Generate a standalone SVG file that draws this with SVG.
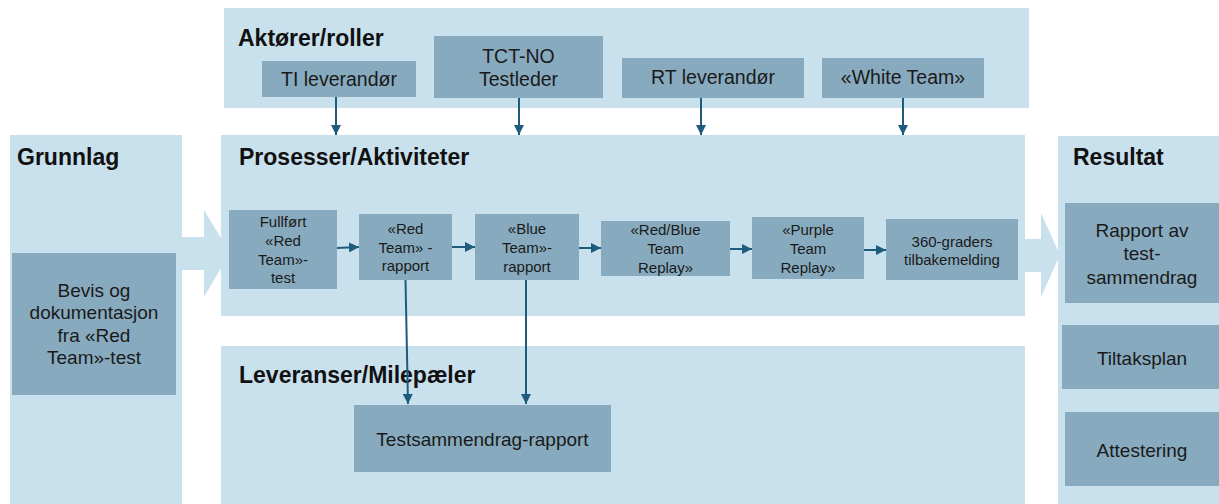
<svg xmlns="http://www.w3.org/2000/svg" width="1219" height="504" viewBox="0 0 1219 504">
<style>
.panel{fill:#c9e0ed}
.box{fill:#87aabe}
.h{font-family:"Liberation Sans",Arial,sans-serif;font-weight:bold;font-size:23px;fill:#111}
.t{font-family:"Liberation Sans",Arial,sans-serif;font-size:19.5px;fill:#1a1a1a;text-anchor:middle}
.s{font-family:"Liberation Sans",Arial,sans-serif;font-size:15px;fill:#1a1a1a;text-anchor:middle}
.c{stroke:#1f5b7c;stroke-width:2;fill:none;marker-end:url(#ah)}
</style>
<defs>
<marker id="ah" viewBox="0 0 10 10" refX="10" refY="5" markerWidth="5" markerHeight="5" orient="auto" markerUnits="strokeWidth">
<path d="M0,0 L10,5 L0,10 Z" fill="#1f5b7c"/>
</marker>
</defs>
<rect width="1219" height="504" fill="#ffffff"/>

<g id="flow-arrows">
<polygon class="panel" points="182,237 204,237 204,210 230,253 204,297 204,270 182,270"/>
<polygon class="panel" points="1025,239 1041,239 1041,213 1060,255 1041,297 1041,272 1025,272"/>
</g>

<g id="panel-aktorer">
<rect class="panel" x="224" y="8" width="805" height="100"/>
<text class="h" x="238" y="46">Aktører/roller</text>
</g>
<g id="panel-grunnlag">
<rect class="panel" x="10" y="135" width="172" height="369"/>
<text class="h" x="17" y="165">Grunnlag</text>
</g>
<g id="panel-prosesser">
<rect class="panel" x="221" y="135" width="804" height="181"/>
<text class="h" x="239" y="165">Prosesser/Aktiviteter</text>
</g>
<g id="panel-leveranser">
<rect class="panel" x="221" y="346" width="804" height="158"/>
<text class="h" x="239" y="383">Leveranser/Milepæler</text>
</g>
<g id="panel-resultat">
<rect class="panel" x="1058" y="136" width="161" height="368"/>
<text class="h" x="1073" y="165">Resultat</text>
</g>

<g id="node-ti">
<rect class="box" x="262" y="61" width="154" height="36"/>
<text class="t" x="339" y="85.5">TI leverandør</text>
</g>
<g id="node-tct">
<rect class="box" x="434" y="36" width="169" height="62"/>
<text class="t" x="518.5" y="63">TCT-NO</text>
<text class="t" x="518.5" y="86">Testleder</text>
</g>
<g id="node-rt">
<rect class="box" x="622" y="58" width="182" height="40"/>
<text class="t" x="713" y="83.5">RT leverandør</text>
</g>
<g id="node-white">
<rect class="box" x="822" y="58" width="162" height="40"/>
<text class="t" x="903" y="83.5">«White Team»</text>
</g>

<g id="node-bevis">
<rect class="box" x="12" y="253" width="164" height="142"/>
<text class="t" x="94" y="296.5" style="font-size:19px">Bevis og</text>
<text class="t" x="94" y="319" style="font-size:19px">dokumentasjon</text>
<text class="t" x="94" y="341.5" style="font-size:19px">fra «Red</text>
<text class="t" x="94" y="364" style="font-size:19px">Team»-test</text>
</g>

<g id="node-fullfort">
<rect class="box" x="229" y="210" width="108" height="79"/>
<text class="s" x="283" y="227">Fullført</text>
<text class="s" x="283" y="246">«Red</text>
<text class="s" x="283" y="265">Team»-</text>
<text class="s" x="283" y="283">test</text>
</g>
<g id="node-redrapport">
<rect class="box" x="359" y="214" width="93" height="66"/>
<text class="s" x="405.5" y="233.5">«Red</text>
<text class="s" x="405.5" y="252.5">Team»  -</text>
<text class="s" x="405.5" y="271">rapport</text>
</g>
<g id="node-bluerapport">
<rect class="box" x="475" y="214" width="104" height="66"/>
<text class="s" x="527" y="234">«Blue</text>
<text class="s" x="527" y="253">Team»-</text>
<text class="s" x="527" y="271.5">rapport</text>
</g>
<g id="node-redblue">
<rect class="box" x="601" y="221" width="129" height="55"/>
<text class="s" x="665.5" y="235">«Red/Blue</text>
<text class="s" x="665.5" y="254">Team</text>
<text class="s" x="665.5" y="273">Replay»</text>
</g>
<g id="node-purple">
<rect class="box" x="752" y="217" width="112" height="62"/>
<text class="s" x="808" y="235">«Purple</text>
<text class="s" x="808" y="254">Team</text>
<text class="s" x="808" y="273">Replay»</text>
</g>
<g id="node-360">
<rect class="box" x="886" y="219" width="132" height="61"/>
<text class="s" x="952" y="246.5">360-graders</text>
<text class="s" x="952" y="265">tilbakemelding</text>
</g>

<g id="node-testsammendrag">
<rect class="box" x="354" y="405" width="257" height="67"/>
<text class="t" x="482.5" y="446" style="font-size:19px">Testsammendrag-rapport</text>
</g>

<g id="node-rapport">
<rect class="box" x="1065" y="203" width="154" height="100"/>
<text class="t" x="1142" y="237" style="font-size:19px">Rapport av</text>
<text class="t" x="1142" y="260" style="font-size:19px">test-</text>
<text class="t" x="1142" y="283.5" style="font-size:19px">sammendrag</text>
</g>
<g id="node-tiltak">
<rect class="box" x="1062" y="325" width="157" height="64"/>
<text class="t" x="1142" y="365" style="font-size:19px">Tiltaksplan</text>
</g>
<g id="node-attest">
<rect class="box" x="1065" y="412" width="154" height="74"/>
<text class="t" x="1142" y="456.5" style="font-size:19px">Attestering</text>
</g>

<g id="connectors">
<line class="c" x1="336" y1="97" x2="336" y2="135"/>
<line class="c" x1="519" y1="98" x2="519" y2="135"/>
<line class="c" x1="701" y1="98" x2="701" y2="135"/>
<line class="c" x1="903" y1="98" x2="903" y2="135"/>
<line class="c" x1="337" y1="248" x2="359" y2="247"/>
<line class="c" x1="452" y1="247" x2="475" y2="247"/>
<line class="c" x1="579" y1="248" x2="601" y2="248"/>
<line class="c" x1="730" y1="249" x2="752" y2="249"/>
<line class="c" x1="864" y1="250" x2="886" y2="250"/>
<line class="c" x1="405.5" y1="280" x2="408" y2="404"/>
<line class="c" x1="526" y1="280" x2="526" y2="404"/>
</g>
</svg>
